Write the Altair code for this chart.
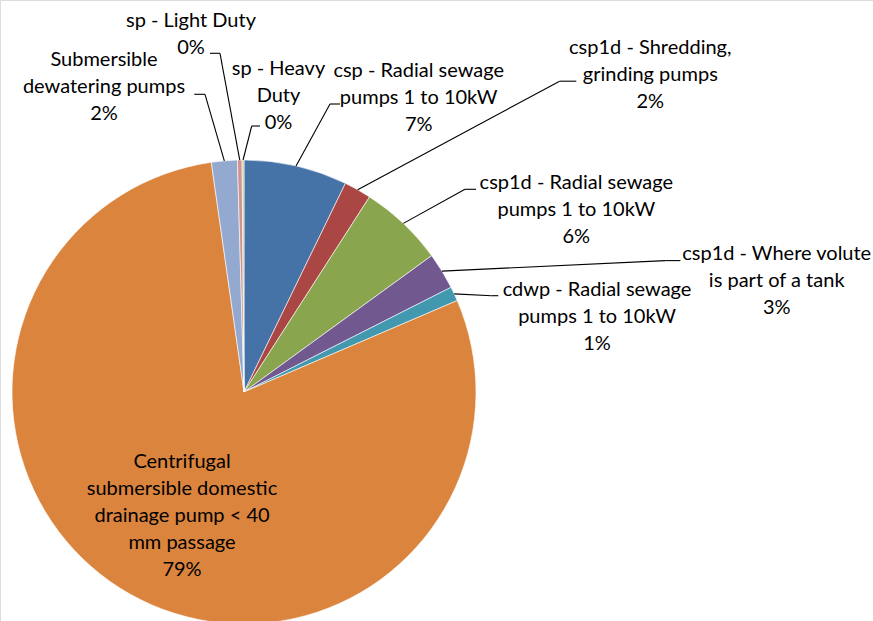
import altair as alt
import pandas as pd

# ---- data ----
categories = [
    "csp - Radial sewage pumps 1 to 10kW",
    "csp1d - Shredding, grinding pumps",
    "csp1d - Radial sewage pumps 1 to 10kW",
    "csp1d - Where volute is part of a tank",
    "cdwp - Radial sewage pumps 1 to 10kW",
    "Centrifugal submersible domestic drainage pump < 40 mm passage",
    "Submersible dewatering pumps",
    "sp - Light Duty",
    "sp - Heavy Duty",
]
shares = [7.2, 1.9, 5.9, 2.55, 1.0, 79.2, 1.8, 0.32, 0.13]
wrapped_names = [
    "csp - Radial sewage\npumps 1 to 10kW",
    "csp1d - Shredding,\ngrinding pumps",
    "csp1d - Radial sewage\npumps 1 to 10kW",
    "csp1d - Where volute\nis part of a tank",
    "cdwp - Radial sewage\npumps 1 to 10kW",
    "Centrifugal\nsubmersible domestic\ndrainage pump < 40\nmm passage",
    "Submersible\ndewatering pumps",
    "sp - Light Duty",
    "sp - Heavy\nDuty",
]
colors = ["#4572A7", "#AA4643", "#89A54E", "#71588F", "#4198AF",
          "#DB843D", "#93A9CF", "#D19392", "#B9CD96"]

# ---- layout (pixel positions of labels and leader elbows) ----
CX, CY, R = 244, 392, 232
label_x = [418.7, 650.3, 576.3, 776.7, 597.0, 182.0, 104.0, 191.0, 278.5]
label_y = [71.3, 47.5, 183.0, 254.0, 290.3, 461.7, 60.2, 20.6, 69.3]
elbow_x = [330.0, 559.6, 465.0, 665.4, 491.7, None, 205.0, 220.0, 251.7]
elbow_y = [104.0, 81.2, 189.3, 260.6, 295.7, None, 94.3, 53.3, 126.0]
end_x = [340.0, 576.3, 476.0, 680.4, 498.3, None, 194.3, 210.0, 260.0]
end_y = [104.0, 81.2, 189.3, 260.6, 295.7, None, 94.3, 53.3, 126.0]

df = pd.DataFrame({
    "idx": list(range(len(categories))),
    "category": categories,
    "share": shares,
    "label": [w + "\n" + f"{round(s):.0f}%" for w, s in zip(wrapped_names, shares)],
    "tx": label_x, "ty": label_y,
    "bx": elbow_x, "by": elbow_y,
    "hx": end_x, "hy": end_y,
})
df["has_leader"] = df["bx"].notna()

FONT = "Lato"
FS = 20

base = alt.Chart(df)

pie = base.mark_arc(outerRadius=R, stroke="#ffffff", strokeWidth=0.6).encode(
    theta=alt.Theta("share:Q", stack=True),
    color=alt.Color("category:N", scale=alt.Scale(domain=categories, range=colors), legend=None),
    order=alt.Order("idx:Q"),
    x=alt.value(CX),
    y=alt.value(CY),
)

edge = (
    base.transform_joinaggregate(total="sum(share)")
    .transform_window(cum="sum(share)", sort=[alt.SortField("idx")], frame=[None, 0])
    .transform_calculate(mid="2*PI*(datum.cum - datum.share/2)/datum.total")
    .transform_calculate(ex=f"{CX} + {R}*sin(datum.mid)", ey=f"{CY} - {R}*cos(datum.mid)")
    .transform_filter("datum.has_leader")
)

leader1 = edge.mark_rule(color="#000000", strokeWidth=1.1).encode(
    x=alt.X("ex:Q", scale=None, axis=None),
    y=alt.Y("ey:Q", scale=None, axis=None),
    x2="bx:Q",
    y2="by:Q",
)
leader2 = edge.mark_rule(color="#000000", strokeWidth=1.1).encode(
    x=alt.X("bx:Q", scale=None, axis=None),
    y=alt.Y("by:Q", scale=None, axis=None),
    x2="hx:Q",
    y2="hy:Q",
)

labels = base.mark_text(
    font=FONT, fontSize=FS, color="#000000", align="center", baseline="middle",
    lineBreak="\n", lineHeight=27,
).encode(
    x=alt.X("tx:Q", scale=None, axis=None),
    y=alt.Y("ty:Q", scale=None, axis=None),
    text="label:N",
)

chart = (
    alt.layer(pie, leader1, leader2, labels)
    .properties(width=873, height=621, padding=0, autosize=alt.AutoSizeParams(type="none"))
    .configure_view(stroke=None)
    .configure(background="#ffffff")
)

chart.save("out.html", embed_options={"renderer": "svg", "actions": False})
